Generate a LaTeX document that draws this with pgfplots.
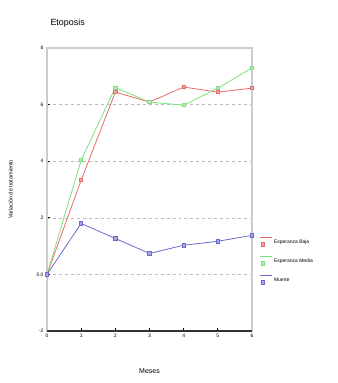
\documentclass[border=0pt]{standalone}
\usepackage{pgfplots}
\pgfplotsset{compat=1.18}
\usepackage{fontspec}
\setmainfont{Liberation Sans}
\definecolor{cred}{HTML}{E86A6A}
\definecolor{cgreen}{HTML}{7EE07E}
\definecolor{cblue}{HTML}{6A6AD0}
\begin{document}
\begin{tikzpicture}[x=1bp,y=1bp]
\path (-47,-52) rectangle (291,331);
\begin{axis}[
  scale only axis, width=205bp, height=283bp,
  at={(0,0)}, anchor=south west,
  xmin=0, xmax=6, ymin=-2, ymax=8,
  xtick={0,...,6}, ytick={-2,0,2,4,6,8},
  yticklabels={-2,0.0,2,4,6,8},
  ymajorgrids, grid style={dashed, gray!55},
  axis line style={gray!40, line width=1.4pt},
  tick style={black, line width=1pt},
  tick align=inside, major tick length=3bp,
  xtick pos=bottom, ytick pos=left,
  tick label style={font=\fontsize{5}{6}\selectfont},
  /pgf/number format/assume math mode=true,
  xlabel={Meses}, xlabel style={font=\fontsize{7}{8}\selectfont, at={(0.5,-0.12)}, anchor=north},
  ylabel={Variación de tratamiento}, ylabel style={font=\fontsize{5.5}{6}\selectfont, at={(-0.15,0.5)}},
  title={Etoposis}, title style={font=\fontsize{9}{10}\selectfont, at={(0,1.04)}, anchor=south west},
  legend style={draw=none, fill=none, font=\fontsize{5}{5}\selectfont, at={(1.02,0.34)}, anchor=north west, row sep=9bp, cells={anchor=west}},
  legend image code/.code={
    \draw[#1, mark=none] (0bp,5bp) -- (12bp,5bp);
    \draw[#1] plot[only marks] coordinates {(3bp,-2bp)};
  },
  every axis plot/.append style={line width=0.8pt, mark=square*, mark size=1.7pt},
]
\addplot[cred, mark options={fill=cred!60}] coordinates {(0,0) (1,3.33) (2,6.44) (3,6.09) (4,6.62) (5,6.44) (6,6.58)};
\addlegendentry{Esperanza Baja}
\addplot[cgreen, mark options={fill=cgreen!60}] coordinates {(0,0) (1,4.04) (2,6.6) (3,6.09) (4,5.98) (5,6.58) (6,7.3)};
\addlegendentry{Esperanza Media}
\addplot[cblue, mark options={fill=cblue!60}] coordinates {(0,0) (1,1.8) (2,1.27) (3,0.74) (4,1.03) (5,1.17) (6,1.38)};
\addlegendentry{Muerte}
\draw[black!80, line width=1.4pt] (axis cs:0,-2) -- (axis cs:6,-2);
\end{axis}
\end{tikzpicture}
\end{document}
